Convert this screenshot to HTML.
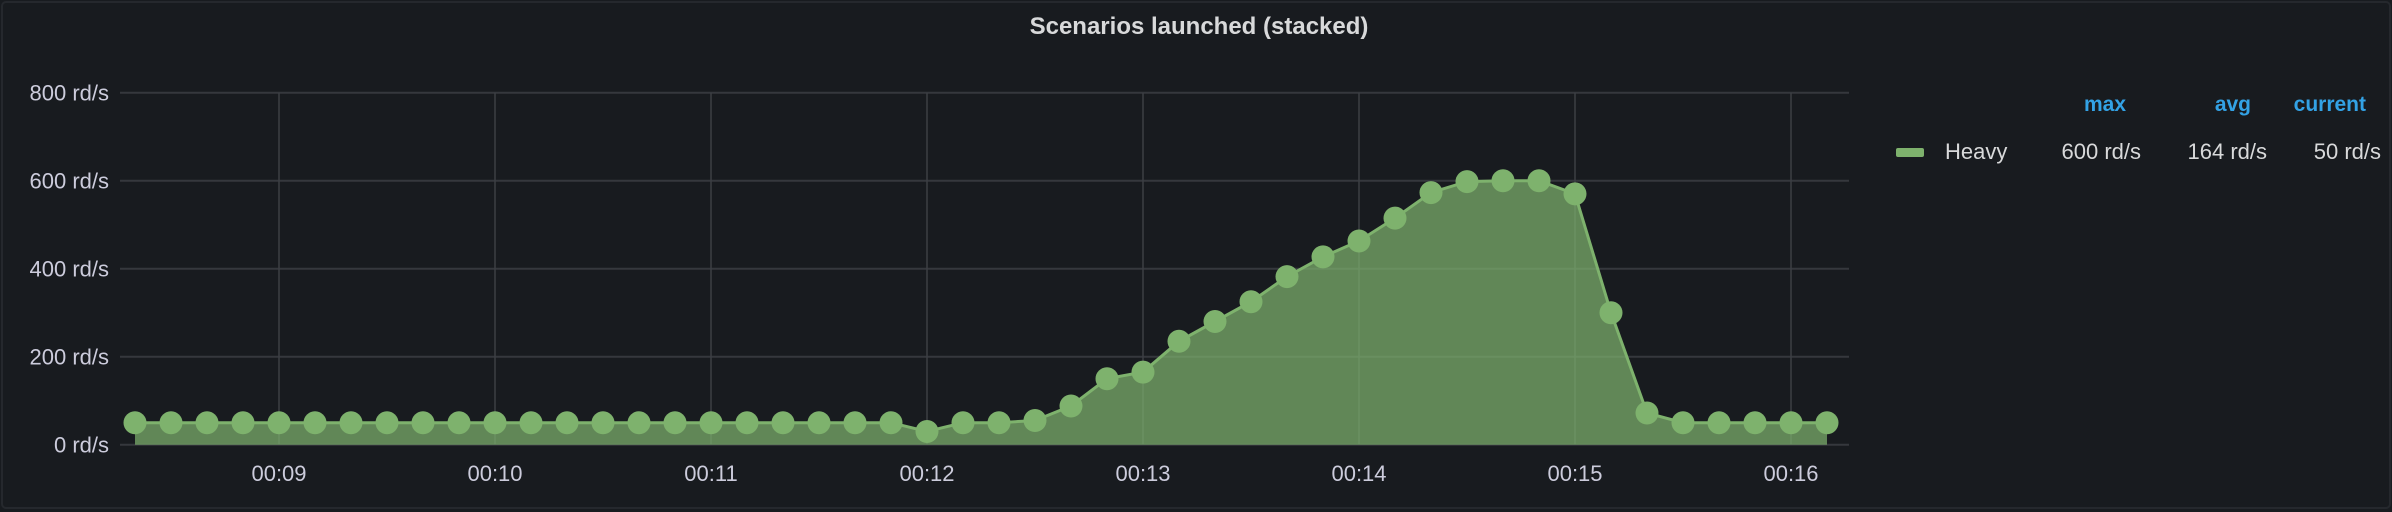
<!DOCTYPE html>
<html><head><meta charset="utf-8"><style>
html,body{margin:0;padding:0;background:#181b1f;}
svg{display:block;font-family:"Liberation Sans",sans-serif;}
</style></head><body>
<svg width="2392" height="512" viewBox="0 0 2392 512">
<rect x="0" y="0" width="2392" height="512" fill="#181b1f"/>
<rect x="2" y="2" width="2388" height="506" rx="4" fill="none" stroke="#25282d" stroke-width="2"/>
<text x="1199" y="34" text-anchor="middle" fill="#d8d9da" font-size="24" font-weight="bold">Scenarios launched (stacked)</text>
<g id="grid"></g>
<g id="area"></g>
<g id="axes"></g>
<g>
<text x="2126" y="111" text-anchor="end" fill="#33a2e5" font-size="21" font-weight="bold">max</text>
<text x="2251" y="111" text-anchor="end" fill="#33a2e5" font-size="21" font-weight="bold">avg</text>
<text x="2366" y="111" text-anchor="end" fill="#33a2e5" font-size="21" font-weight="bold">current</text>
<rect x="1896" y="148" width="28" height="9" rx="2" fill="#7eb26d"/>
<text x="1945" y="159" fill="#d8d9da" font-size="22">Heavy</text>
<text x="2141" y="159" text-anchor="end" fill="#d8d9da" font-size="22">600 rd/s</text>
<text x="2267" y="159" text-anchor="end" fill="#d8d9da" font-size="22">164 rd/s</text>
<text x="2381" y="159" text-anchor="end" fill="#d8d9da" font-size="22">50 rd/s</text>
</g>
</svg>
<script>
const startSeconds = 8*60+20; // 00:08:20
const stepSeconds = 10;
const heavyValues = [50,50,50,50,50,50,50,50,50,50,50,50,50,50,50,50,50,50,50,50,50,50,30,50,50,55,88,150,165,235,280,325,382,427,463,515,573,598,600,600,570,300,72,50,50,50,50,50];
const yTicks = [0,200,400,600,800];
const yTickLabels = ["0 rd/s","200 rd/s","400 rd/s","600 rd/s","800 rd/s"];
const xTicksMinutes = [9,10,11,12,13,14,15,16];
const xTickLabels = ["00:09","00:10","00:11","00:12","00:13","00:14","00:15","00:16"];

const NS="http://www.w3.org/2000/svg";
const plotL=120, plotR=1849, y0px=444.7, yMaxPx=92.7, yMax=800;
const x9=279, pxPerSec=216/60;
function xs(sec){return x9+(sec-540)*pxPerSec;}
function ys(v){return y0px-(v/yMax)*(y0px-yMaxPx);}
function mk(tag,attrs,parent){const e=document.createElementNS(NS,tag);for(const k in attrs)e.setAttribute(k,attrs[k]);parent.appendChild(e);return e;}
const grid=document.getElementById('grid'), axes=document.getElementById('axes'), area=document.getElementById('area');
yTicks.forEach((v,i)=>{
  const l=mk('line',{x1:plotL,x2:plotR,y1:ys(v),y2:ys(v),stroke:'#35383d','stroke-width':2},grid);
  
  
  const t=mk('text',{x:109,y:ys(v)+8,'text-anchor':'end',fill:'#ccccdc','font-size':22},axes);
  t.textContent=yTickLabels[i];
  
  
});
xTicksMinutes.forEach((m,i)=>{
  const x=xs(m*60);
  const l=mk('line',{x1:x,x2:x,y1:yMaxPx,y2:y0px,stroke:'#3c3f44','stroke-width':1.5},grid);
  
  
  const t=mk('text',{x:x,y:481,'text-anchor':'middle',fill:'#ccccdc','font-size':22},axes);
  t.textContent=xTickLabels[i];
  
  
});
const pts=heavyValues.map((v,i)=>[xs(startSeconds+i*stepSeconds),ys(v)]);
let d='M'+pts[0][0]+','+y0px+' '+pts.map(p=>'L'+p[0]+','+p[1]).join(' ')+' L'+pts[pts.length-1][0]+','+y0px+' Z';
const poly=mk('path',{d:d,fill:'#7eb26d','fill-opacity':0.72},area);


const line=mk('polyline',{points:pts.map(p=>p.join(',')).join(' '),fill:'none',stroke:'#7eb26d','stroke-width':3},area);


pts.forEach(p=>{
  const c=mk('circle',{cx:p[0],cy:p[1],r:11.5,fill:'#7eb26d'},area);
  
  
});
</script>
</body></html>
